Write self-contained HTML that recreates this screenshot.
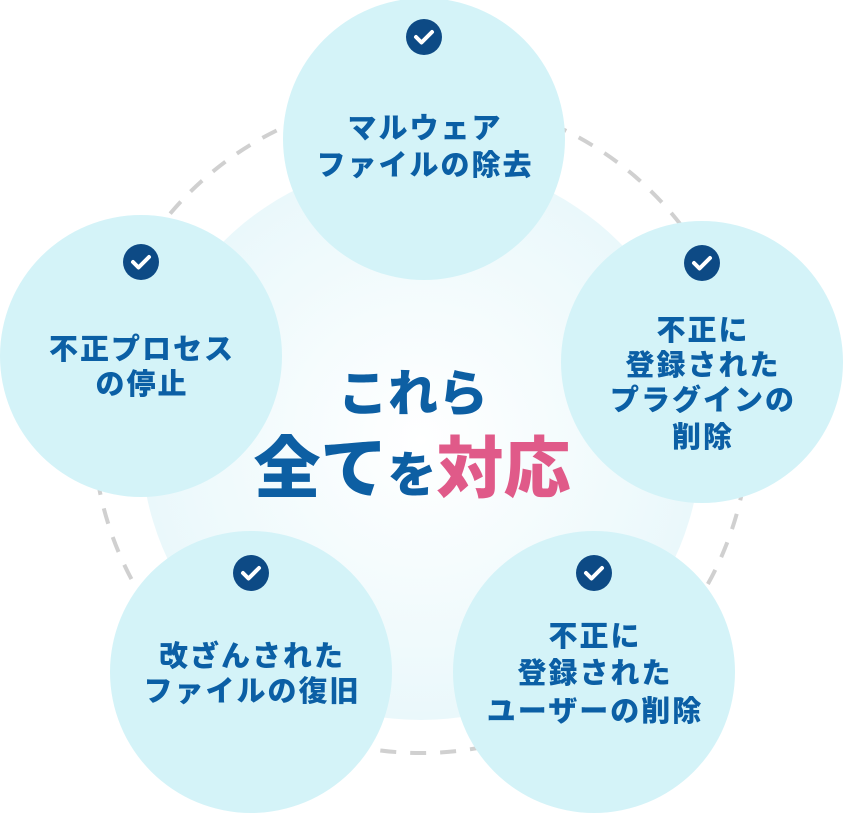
<!DOCTYPE html>
<html><head><meta charset="utf-8"><style>
html,body{margin:0;padding:0;background:#fff;width:843px;height:814px;overflow:hidden}
svg{display:block}
text{font-family:"Liberation Sans","Noto Sans CJK JP",sans-serif;font-weight:900;text-anchor:middle}
</style></head><body>
<svg width="843" height="814" viewBox="0 0 843 814" xmlns="http://www.w3.org/2000/svg">
<defs>
<radialGradient id="g" cx="50%" cy="50%" r="50%">
<stop offset="0" stop-color="#ffffff"/><stop offset="1" stop-color="#eaf8fb"/>
</radialGradient>
<g id="chk"><circle r="18" fill="#0d4a85"/><path d="M-8 0 L-2.5 5.5 L8 -5" fill="none" stroke="#fff" stroke-width="4" stroke-linecap="round" stroke-linejoin="round"/></g>
</defs>
<circle cx="421" cy="425" r="328" fill="none" stroke="#d0d0d0" stroke-width="4" stroke-dasharray="16 14"/>
<circle cx="421" cy="440" r="280" fill="url(#g)"/>
<g fill="#d4f3f8">
<circle cx="424" cy="139" r="141"/>
<circle cx="141" cy="356" r="141"/>
<circle cx="702" cy="362" r="141"/>
<circle cx="251" cy="672" r="141"/>
<circle cx="594" cy="672" r="141"/>
</g>
<use href="#chk" x="424" y="37"/>
<use href="#chk" x="141" y="262"/>
<use href="#chk" x="702" y="263"/>
<use href="#chk" x="251" y="573"/>
<use href="#chk" x="594" y="573"/>
<g fill="#0b5fa5" font-size="29" letter-spacing="2">
<text x="425" y="138">マルウェア</text>
<text x="425" y="175">ファイルの除去</text>
<text x="142" y="359">不正プロセス</text>
<text x="142" y="394">の停止</text>
<text x="703" y="340">不正に</text>
<text x="703" y="375">登録された</text>
<text x="703" y="410">プラグインの</text>
<text x="703" y="447">削除</text>
<text x="252" y="666">改ざんされた</text>
<text x="252" y="701">ファイルの復旧</text>
<text x="595" y="646">不正に</text>
<text x="595" y="683">登録された</text>
<text x="595" y="721">ユーザーの削除</text>
</g>
<text x="413" y="411" font-size="50" fill="#0d5fa3">これら</text>
<text x="412" y="492" fill="#0d5fa3"><tspan font-size="67">全て</tspan><tspan font-size="49">を</tspan><tspan font-size="67" fill="#e05a89">対応</tspan></text>
</svg>
</body></html>
